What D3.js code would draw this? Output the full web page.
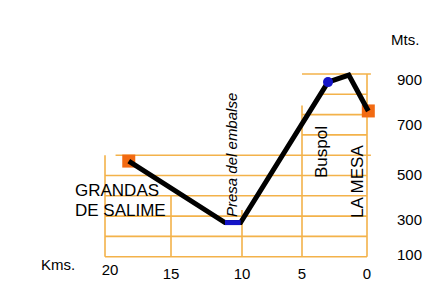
<!DOCTYPE html>
<html>
<head>
<meta charset="utf-8">
<script src="https://cdn.jsdelivr.net/npm/d3@7"></script>
<style>
  body { margin: 0; background: #fff; }
  text { font-family: Arial, "Liberation Sans", sans-serif; fill: #000; }
</style>
</head>
<body>
<script>
// profile: km from the end, elevation in metres
var kms    = [18.2, 11.2, 10.1, 3.0, 1.4, -0.1];
var metres = [571,  268,  268,  960, 995, 818];

var kmTicks = [20, 15, 10, 5, 0];
var mTicks  = [100, 300, 500, 700, 900];

// grid pieces, in km / m
var hGrid = [
  {m: 100, from: 20, to: 0}, {m: 200, from: 20, to: 0},
  {m: 300, from: 20, to: 0}, {m: 400, from: 20, to: 0},
  {m: 500, from: 20, to: 0}, {m: 600, from: 19.2, to: -0.3},
  {m: 700, from: 5, to: 0},  {m: 800, from: 5, to: 0},
  {m: 900, from: 3.5, to: 0}, {m: 1000, from: 5, to: -0.3}
];
var vGrid = [
  {km: 20, top: 600}, {km: 15, top: 400}, {km: 10, top: 330},
  {km: 5, top: 845}, {km: 0, top: 1000}
];

var x = d3.scaleLinear().domain(kmTicks).range([105, 171, 242, 302, 367]);
var y = d3.scaleLinear().domain([100, 1000]).range([256.7, 74]);
// the metre labels do not sit on the grid in the original
var yLab = d3.scaleLinear().domain(mTicks).range([254, 219, 174, 124, 79]);

var svg = d3.select("body").append("svg")
  .attr("width", 448)
  .attr("height", 307);

var grid = "#f3b24a";

svg.selectAll("line.h").data(hGrid).enter().append("line")
  .attr("x1", function(d) { return x(d.from); })
  .attr("x2", function(d) { return x(d.to); })
  .attr("y1", function(d) { return y(d.m); })
  .attr("y2", function(d) { return y(d.m); })
  .attr("stroke", grid).attr("stroke-width", 1.6);

svg.selectAll("line.v").data(vGrid).enter().append("line")
  .attr("x1", function(d) { return x(d.km); })
  .attr("x2", function(d) { return x(d.km); })
  .attr("y1", function(d) { return y(d.top); })
  .attr("y2", y(100))
  .attr("stroke", grid).attr("stroke-width", 1.6);

var pts = kms.map(function(k, i) { return [x(k), y(metres[i])]; });

// end squares
[0, pts.length - 1].forEach(function(i) {
  svg.append("rect")
    .attr("x", pts[i][0] - 6.5).attr("y", pts[i][1] - 6.5)
    .attr("width", 13).attr("height", 13)
    .attr("fill", "#f26a12");
});

svg.append("path")
  .attr("d", d3.line()(pts))
  .attr("fill", "none")
  .attr("stroke", "#000")
  .attr("stroke-width", 5)
  .attr("stroke-linejoin", "miter");

// dam stretch in blue
svg.append("path")
  .attr("d", d3.line()(pts.slice(1, 3)))
  .attr("stroke", "#1414c8")
  .attr("stroke-width", 5);

svg.append("circle")
  .attr("cx", pts[3][0]).attr("cy", pts[3][1]).attr("r", 5)
  .attr("fill", "#1414c8");

// axis labels
svg.selectAll("text.km").data(kmTicks).enter().append("text")
  .attr("x", function(d) { return x(d) + (d == 20 ? 5 : 0); })
  .attr("y", function(d) { return d == 20 ? 275 : 279; })
  .attr("text-anchor", "middle")
  .style("font-size", "15px")
  .text(function(d) { return d; });

svg.selectAll("text.m").data(mTicks).enter().append("text")
  .attr("x", 397)
  .attr("y", function(d) { return yLab(d) + 5.5; })
  .style("font-size", "15px")
  .text(function(d) { return d; });

svg.append("text").attr("x", 41).attr("y", 270)
  .style("font-size", "15px").text("Kms.");
svg.append("text").attr("x", 391).attr("y", 45)
  .style("font-size", "15px").text("Mts.");

svg.append("text").attr("x", 75).attr("y", 196)
  .style("font-size", "17px").text("GRANDAS");
svg.append("text").attr("x", 75).attr("y", 216)
  .style("font-size", "17px").text("DE SALIME");

var vText = function(tx, ty, size, txt, italic) {
  svg.append("text")
    .attr("transform", "translate(" + tx + "," + ty + ") rotate(-90)")
    .style("font-size", size + "px")
    .style("font-style", italic ? "italic" : "normal")
    .text(txt);
};
vText(237, 217, 15, "Presa del embalse", true);
vText(327, 178, 17, "Buspol", false);
vText(363, 218, 17, "LA MESA", false);
</script>
</body>
</html>
